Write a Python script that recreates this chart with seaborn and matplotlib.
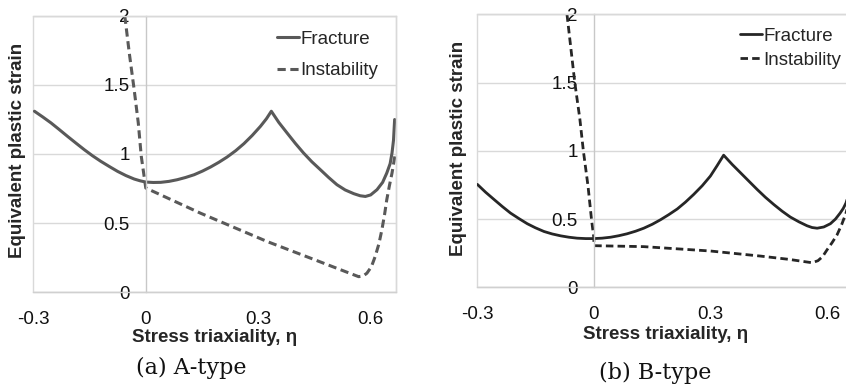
import numpy as np
import pandas as pd
import matplotlib
matplotlib.use('Agg')
import matplotlib.pyplot as plt
import seaborn as sns

# (a) A-type
eta_frac_a = [-0.297, -0.275, -0.253, -0.231, -0.209, -0.186, -0.164, -0.142, -0.120, -0.097,
              -0.075, -0.053, -0.031, -0.015, 0.0, 0.020, 0.040, 0.062, 0.084, 0.106, 0.129,
              0.151, 0.173, 0.195, 0.217, 0.240, 0.262, 0.284, 0.306, 0.322, 0.335, 0.355,
              0.377, 0.399, 0.421, 0.443, 0.466, 0.488, 0.510, 0.532, 0.555, 0.572, 0.586,
              0.600, 0.617, 0.632, 0.643, 0.652, 0.657, 0.661, 0.664]
strain_frac_a = [1.309, 1.268, 1.225, 1.177, 1.128, 1.078, 1.031, 0.987, 0.947, 0.909,
                 0.874, 0.844, 0.819, 0.806, 0.797, 0.794, 0.795, 0.802, 0.814, 0.830, 0.850,
                 0.876, 0.906, 0.940, 0.978, 1.024, 1.075, 1.134, 1.200, 1.255, 1.309, 1.228,
                 1.152, 1.077, 1.007, 0.944, 0.886, 0.830, 0.778, 0.740, 0.713, 0.698, 0.693,
                 0.704, 0.742, 0.795, 0.862, 0.930, 1.007, 1.100, 1.249]
eta_inst_a = [-0.056, -0.044, -0.031, -0.020, -0.012, -0.005, 0.0, 0.146, 0.324, 0.450, 0.540,
              0.568, 0.580, 0.590, 0.602, 0.612, 0.622, 0.630, 0.637, 0.643, 0.650, 0.657,
              0.666]
strain_inst_a = [2.0, 1.73, 1.466, 1.225, 0.983, 0.85, 0.754, 0.572, 0.367, 0.236, 0.142,
                 0.113, 0.118, 0.138, 0.185, 0.258, 0.350, 0.452, 0.560, 0.669, 0.770, 0.862,
                 1.007]

# (b) B-type
eta_frac_b = [-0.299, -0.278, -0.256, -0.235, -0.214, -0.192, -0.171, -0.150, -0.128, -0.107,
              -0.085, -0.064, -0.043, -0.021, 0.0, 0.021, 0.043, 0.064, 0.085, 0.107, 0.128,
              0.150, 0.171, 0.192, 0.214, 0.235, 0.256, 0.278, 0.299, 0.316, 0.333, 0.355,
              0.376, 0.398, 0.419, 0.440, 0.462, 0.483, 0.504, 0.526, 0.547, 0.560, 0.573,
              0.590, 0.607, 0.620, 0.632, 0.640, 0.647, 0.667]
strain_frac_b = [0.754, 0.697, 0.643, 0.592, 0.544, 0.503, 0.466, 0.436, 0.409, 0.391,
                 0.377, 0.367, 0.360, 0.357, 0.357, 0.360, 0.367, 0.378, 0.392, 0.411, 0.433,
                 0.462, 0.495, 0.532, 0.574, 0.624, 0.680, 0.744, 0.815, 0.890, 0.968, 0.900,
                 0.840, 0.777, 0.717, 0.660, 0.606, 0.558, 0.515, 0.480, 0.451, 0.438, 0.433,
                 0.442, 0.466, 0.500, 0.544, 0.578, 0.618, 0.80]
eta_inst_b = [-0.069, -0.059, -0.049, -0.036, -0.027, -0.015, -0.006, 0.0, 0.0, 0.128, 0.299,
              0.427, 0.500, 0.560, 0.575, 0.587, 0.598, 0.611, 0.624, 0.636, 0.647, 0.667]
strain_inst_b = [2.0, 1.75, 1.5, 1.234, 1.0, 0.741, 0.495, 0.36, 0.305, 0.298, 0.266,
                 0.229, 0.205, 0.180, 0.195, 0.225, 0.273, 0.326, 0.384, 0.460, 0.544, 0.75]

series_names = ['Fracture', 'Instability']
xticks = [-0.3, 0, 0.3, 0.6]
xtick_labels = ['-0.3', '0', '0.3', '0.6']
yticks = [0, 0.5, 1, 1.5, 2]
ytick_labels = ['0', '0.5', '1', '1.5', '2']
captions = ['(a) A-type', '(b) B-type']


def make_df(eta_f, s_f, eta_i, s_i):
    return pd.concat([
        pd.DataFrame({'eta': eta_f, 'strain': s_f, 'curve': series_names[0]}),
        pd.DataFrame({'eta': eta_i, 'strain': s_i, 'curve': series_names[1]}),
    ], ignore_index=True)


def draw_panel(ax, df, color, lw, leg_xy, leg_spacing, ylab_xy, xlab_y):
    sns.lineplot(data=df, x='eta', y='strain', style='curve', color=color, lw=lw,
                 dashes={'Fracture': '', 'Instability': (2.7, 1.5)},
                 sort=False, estimator=None, ax=ax)
    ax.set_xlim(-0.3, 0.667)
    ax.set_ylim(0, 2)
    ax.set_xticks(xticks, xtick_labels)
    ax.set_yticks(yticks, ytick_labels)
    ax.tick_params(axis='both', length=0, labelsize=13.5, colors='#111111')
    ax.tick_params(axis='x', pad=13.5)
    ax.tick_params(axis='y', pad=11.5)

    # Excel style: vertical axis crosses at 0
    ax.spines['left'].set_position(('data', 0))
    ax.spines['left'].set_color('#c8c8c8')
    ax.spines['bottom'].set_color('#d0d0d0')
    for s in ['top', 'right']:
        ax.spines[s].set_color('#d9d9d9')
    for s in ax.spines.values():
        s.set_linewidth(1)
    ax.patch.set_edgecolor('#d9d9d9')
    ax.patch.set_linewidth(1)

    ax.yaxis.grid(True, color='#d9d9d9', lw=1)
    ax.xaxis.grid(False)
    ax.set_axisbelow(True)

    ax.set_xlabel('Stress triaxiality, η', fontsize=13.5, fontweight='bold')
    ax.set_ylabel('Equivalent plastic strain', fontsize=13.5, fontweight='bold')
    ax.xaxis.set_label_coords(0.5, xlab_y)
    ax.yaxis.set_label_coords(ylab_xy[0], ylab_xy[1])

    handles, labels = ax.get_legend_handles_labels()
    ax.legend(handles, labels, loc='upper left', bbox_to_anchor=leg_xy, frameon=False,
              fontsize=13.5, handlelength=1.17, handletextpad=0.1, borderpad=0,
              borderaxespad=0, labelspacing=leg_spacing)


sns.set_theme(style='white')
plt.rcParams['font.family'] = ['Liberation Sans', 'DejaVu Sans']

fig = plt.figure(figsize=(8.46, 3.89), dpi=100)
ax_a = fig.add_axes([0.0394, 0.2486, 0.4284, 0.7111])
ax_b = fig.add_axes([0.5638, 0.2614, 0.4454, 0.7018])

df_a = make_df(eta_frac_a, strain_frac_a, eta_inst_a, strain_inst_a)
df_b = make_df(eta_frac_b, strain_frac_b, eta_inst_b, strain_inst_b)

draw_panel(ax_a, df_a, '#595959', 2.2, (0.672, 0.945), 0.75, (-0.0215, 0.512), -0.132)
draw_panel(ax_b, df_b, '#262626', 2.0, (0.697, 0.951), 0.35, (-0.026, 0.509), -0.141)

fig.text(0.2266, 0.0553, captions[0], ha='center', va='center', family='DejaVu Serif',
         fontsize=16, color='#111111')
fig.text(0.7739, 0.0424, captions[1], ha='center', va='center', family='DejaVu Serif',
         fontsize=16, color='#111111')

fig.savefig('out.png', dpi=100)
